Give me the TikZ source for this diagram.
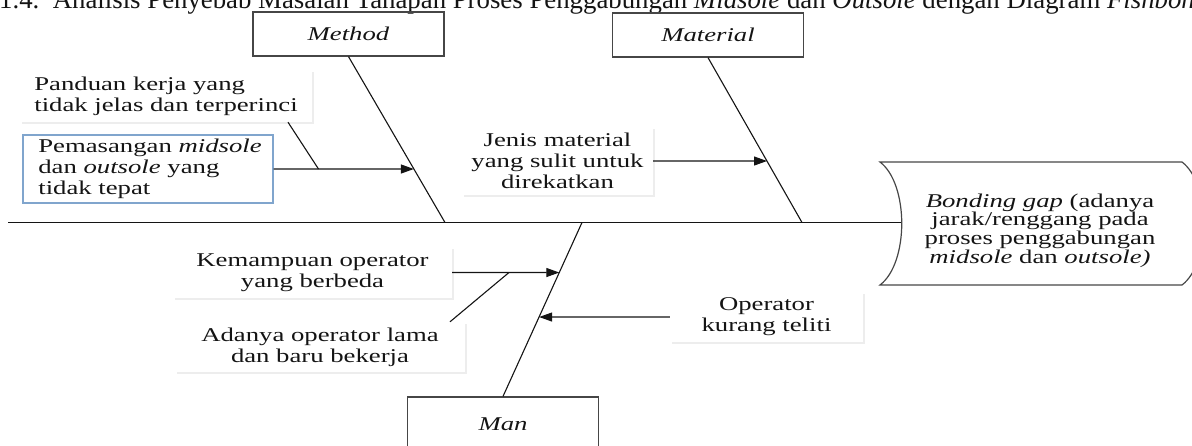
\documentclass[tikz,border=0pt]{standalone}
\usepackage{fontspec}
\setmainfont{Liberation Serif}
\newfontfamily\diagfont{Liberation Serif}[FakeStretch=1.37]
\usetikzlibrary{arrows.meta,calc,shadows}
\definecolor{ink}{RGB}{20,20,20}
\definecolor{boxline}{RGB}{70,70,70}
\definecolor{blueline}{RGB}{128,165,205}
\begin{document}
\begin{tikzpicture}[x=1pt,y=-1pt,
  dtext/.style={font=\diagfont\fontsize{19.5}{21}\selectfont, text=ink},
  catbox/.style={dtext, draw=boxline, line width=1.2pt, minimum width=191pt, minimum height=44pt, inner sep=0pt},
  causebox/.style={dtext, fill=white, inner sep=0pt, drop shadow={shadow xshift=1.5pt, shadow yshift=-2pt, opacity=0.14}},
  bone/.style={draw=ink, line width=1.1pt},
  outline/.style={draw=boxline, line width=1.2pt},
  arr/.style={bone, -{Triangle[length=13pt,width=9pt]}}
]
\useasboundingbox (0,0) rectangle (1192,445);
\clip (0,0) rectangle (1192,445);

% title (cut at top)
\node[anchor=base west, inner sep=0pt, font=\fontsize{26.8}{30}\selectfont, text=ink] (title) at (-1,8)
  {1.4.\hspace{0.5em}Analisis Penyebab Masalah Tahapan Proses Penggabungan \textit{Midsole} dan \textit{Outsole} dengan Diagram \textit{Fishbone}};

% category boxes
\node[catbox] (method) at (348.5,34) {\textit{Method}};
\node[catbox] (material) at (708,35) {\textit{Material}};
\node[catbox, minimum height=54pt] (man) at (503,424) {\textit{Man}};

% spine and bones
\coordinate (spL) at (8,222.5);
\coordinate (effL) at (902,222.5);
\draw[bone] (spL) -- (effL);
\coordinate (mB) at (445,222.5);
\coordinate (matB) at (802,222.5);
\coordinate (manB) at (582,222.5);
\draw[bone] (method.south) -- (mB);
\draw[bone] (material.south) -- (matB);
\draw[bone] (man.north) -- (manB);

% effect shape
\coordinate (eNW) at (880,162);
\coordinate (eNE) at (1182,162);
\coordinate (eSE) at (1182,285);
\coordinate (eSW) at (880,285);
\draw[outline] (eNW) -- (eNE) .. controls (1211,184) and (1211,263) .. (eSE) -- (eSW) .. controls (909,263) and (909,184) .. (eNW) -- cycle;
\node[dtext, align=center, inner sep=0pt, font=\diagfont\fontsize{19.5}{18.7}\selectfont] (effect) at (1040,230.5)
  {\textit{Bonding gap} (adanya\\jarak/renggang pada\\proses penggabungan\\\textit{midsole} dan \textit{outsole)}};

% cause boxes
\node[causebox, align=left, minimum width=292pt, minimum height=52pt] (pand) at (166,96)
  {Panduan kerja yang\\tidak jelas dan terperinci};
\node[dtext, draw=blueline, line width=1.2pt, fill=white, align=left, minimum width=250pt, minimum height=68pt, inner sep=0pt] (pem) at (148,169)
  {\hspace*{4pt}Pemasangan \textit{midsole}\\\hspace*{4pt}dan \textit{outsole} yang\\\hspace*{4pt}tidak tepat};
\node[causebox, align=center, minimum width=191pt, minimum height=68pt] (jenis) at (557.5,161)
  {Jenis material\\yang sulit untuk\\direkatkan};
\node[causebox, align=center, minimum width=279pt, minimum height=51pt] (kem) at (312.5,272.5)
  {Kemampuan operator\\yang berbeda};
\node[causebox, align=center, minimum width=290pt, minimum height=50pt] (adan) at (320,347)
  {Adanya operator lama\\dan baru bekerja};
\node[causebox, align=center, minimum width=193pt, minimum height=50pt] (oper) at (766.5,317)
  {Operator\\kurang teliti};

% method arrows
\coordinate (pemE) at (pem.east);
\coordinate (pemF) at ([xshift=400pt]pem.east);
\coordinate (mT) at (method.south);
\coordinate (mA) at (intersection of pemE--pemF and mT--mB);
\draw[arr] (pem.east) -- (mA);
\coordinate (pJ) at ($(pem.east)!0.32!(mA)$);
\draw[bone] ([xshift=122pt]pand.south) -- (pJ);

% material arrow
\coordinate (jE) at (jenis.east);
\coordinate (jF) at ([xshift=300pt]jenis.east);
\coordinate (matT) at (material.south);
\coordinate (matA) at (intersection of jE--jF and matT--matB);
\draw[arr] (jenis.east) -- (matA);

% man arrows
\coordinate (kE) at (kem.east);
\coordinate (kF) at ([xshift=300pt]kem.east);
\coordinate (manT) at (man.north);
\coordinate (manA) at (intersection of kE--kF and manT--manB);
\draw[arr] (kem.east) -- (manA);
\coordinate (aJ) at ($(kem.east)!0.53!(manA)$);
\draw[bone] ([xshift=130pt]adan.north) -- (aJ);
\coordinate (oW) at (oper.west);
\coordinate (oF) at ([xshift=-300pt]oper.west);
\coordinate (manC) at (intersection of oW--oF and manT--manB);
\draw[arr] (oper.west) -- (manC);
\end{tikzpicture}
\end{document}
